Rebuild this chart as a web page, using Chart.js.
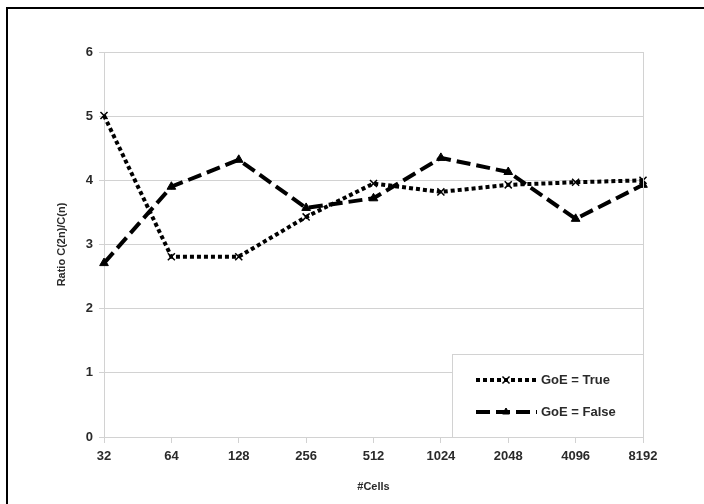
<!DOCTYPE html>
<html>
<head>
<meta charset="utf-8">
<script src="https://cdn.jsdelivr.net/npm/chart.js@4.4.1/dist/chart.umd.min.js"></script>
<style>
  html, body { margin: 0; padding: 0; background: #fff; }
  #wrap { width: 704px; height: 504px; position: relative; }
</style>
</head>
<body>
<div id="wrap"><canvas id="c" width="704" height="504"></canvas></div>
<script>
// Number of cells on the x axis
const cells = ['32', '64', '128', '256', '512', '1024', '2048', '4096', '8192'];
// Ratio C(2n)/C(n) for each setting
const goeTrue  = [5.01, 2.81, 2.81, 3.43, 3.95, 3.82, 3.93, 3.97, 4.00];
const goeFalse = [2.71, 3.90, 4.32, 3.57, 3.72, 4.35, 4.13, 3.40, 3.93];
const yTicks = [0, 1, 2, 3, 4, 5, 6];

const FONT = "'Liberation Sans', Arial, sans-serif";
const TXT = '#2a2a2a';
const GRID = '#d2d2d2';

// Outer frame, right border of the plot and the boxed legend
const decor = {
  id: 'decor',
  afterDraw(chart) {
    const { ctx, chartArea: a } = chart;
    ctx.save();
    // plot right border
    ctx.strokeStyle = GRID;
    ctx.lineWidth = 1;
    ctx.beginPath();
    ctx.moveTo(Math.round(a.right) + 0.5, a.top);
    ctx.lineTo(Math.round(a.right) + 0.5, a.bottom);
    ctx.stroke();

    // outer frame
    ctx.strokeStyle = '#000';
    ctx.lineWidth = 2;
    ctx.beginPath();
    ctx.moveTo(710, 8);
    ctx.lineTo(7, 8);
    ctx.lineTo(7, 510);
    ctx.stroke();

    // legend box
    const lx = 452, ly = 354, lr = Math.round(a.right), lb = Math.round(a.bottom);
    ctx.fillStyle = '#fff';
    ctx.fillRect(lx, ly, lr - lx, lb - ly);
    ctx.strokeStyle = GRID;
    ctx.lineWidth = 1;
    ctx.strokeRect(lx + 0.5, ly + 0.5, lr - lx, lb - ly);

    const rows = [380, 412];
    const legendRadius = [5, 4];
    chart.data.datasets.forEach((ds, i) => {
      const y = rows[i];
      ctx.strokeStyle = '#000';
      ctx.fillStyle = '#000';
      ctx.lineWidth = ds.borderWidth;
      ctx.setLineDash(ds.borderDash);
      ctx.beginPath();
      ctx.moveTo(476, y);
      ctx.lineTo(537, y);
      ctx.stroke();
      ctx.setLineDash([]);
      ctx.lineWidth = ds.pointBorderWidth;
      Chart.helpers.drawPoint(ctx, {
        pointStyle: ds.pointStyle,
        radius: legendRadius[i],
        borderWidth: ds.pointBorderWidth
      }, 506, y);
      ctx.fillStyle = TXT;
      ctx.font = 'bold 13px ' + FONT;
      ctx.textBaseline = 'middle';
      ctx.textAlign = 'left';
      ctx.fillText(ds.label, 541, y);
    });
    ctx.restore();
  }
};

new Chart(document.getElementById('c'), {
  type: 'line',
  data: {
    labels: cells,
    datasets: [
      {
        label: 'GoE = True',
        data: goeTrue,
        borderColor: '#000',
        backgroundColor: '#000',
        borderWidth: 4,
        borderDash: [4, 3],
        pointStyle: 'crossRot',
        pointRadius: 5,
        pointBorderWidth: 1.5,
        pointBorderColor: '#000',
        tension: 0
      },
      {
        label: 'GoE = False',
        data: goeFalse,
        borderColor: '#000',
        backgroundColor: '#000',
        borderWidth: 4,
        borderDash: [14, 6],
        pointStyle: 'triangle',
        pointRadius: 5,
        pointBorderWidth: 1,
        pointBorderColor: '#000',
        pointBackgroundColor: '#000',
        tension: 0
      }
    ]
  },
  options: {
    responsive: false,
    animation: false,
    layout: { padding: { top: 52, right: 61, left: 0, bottom: 0 } },
    plugins: { legend: { display: false }, tooltip: { enabled: false } },
    scales: {
      x: {
        offset: false,
        grid: { display: true, drawOnChartArea: false, drawTicks: true, tickLength: 6, color: GRID },
        border: { color: GRID },
        ticks: { color: TXT, font: { family: FONT, size: 13, weight: 'bold' }, padding: 6, maxRotation: 0, autoSkip: false },
        title: { display: true, text: '#Cells', color: TXT, font: { family: FONT, size: 11, weight: 'bold' }, padding: { top: 0, bottom: 10 } },
        afterFit(s) { s.height = 67; }
      },
      y: {
        min: 0,
        max: 6,
        afterBuildTicks(s) { s.ticks = yTicks.map(v => ({ value: v })); },
        grid: { color: GRID, tickLength: 5 },
        border: { color: GRID },
        ticks: { color: TXT, font: { family: FONT, size: 13, weight: 'bold' }, padding: 6 },
        title: { display: true, text: 'Ratio C(2n)/C(n)', color: TXT, font: { family: FONT, size: 11, weight: 'bold' }, padding: { top: 55, bottom: 0 } },
        afterFit(s) { s.width = 104; }
      }
    }
  },
  plugins: [decor]
});
</script>
</body>
</html>
